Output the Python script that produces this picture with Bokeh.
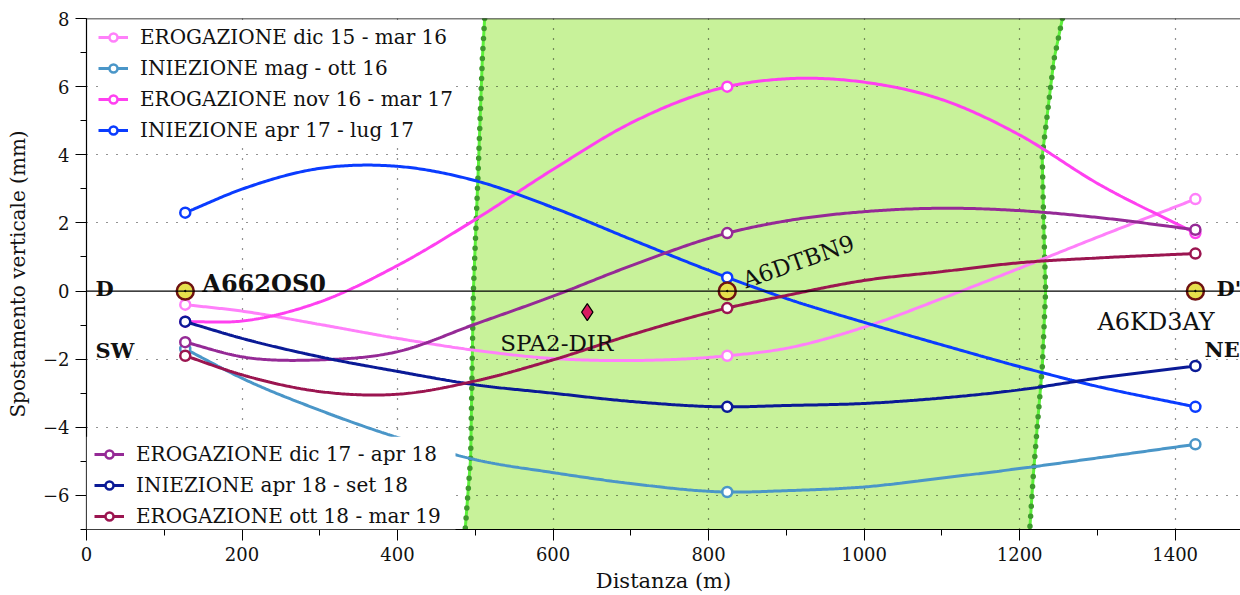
import numpy as np
from bokeh.plotting import figure
from bokeh.models import Range1d, FixedTicker, Span, Legend, LegendItem, BoxAnnotation
from bokeh.core.properties import value
from bokeh.embed import file_html
from bokeh.resources import INLINE

FONT = "DejaVu Serif"

# ---------------- data ----------------
SAMPLE_X = [127, 200, 300, 400, 500, 600, 700, 824, 900, 1000, 1100, 1200, 1300, 1426]
STATION_X = [127, 824, 1426]
STATION_NAMES = ["A662OS0", "A6DTBN9", "A6KD3AY"]

SERIES_LABELS = [
    "EROGAZIONE dic 15 - mar 16",
    "INIEZIONE mag - ott 16",
    "EROGAZIONE nov 16 - mar 17",
    "INIEZIONE apr 17 - lug 17",
    "EROGAZIONE dic 17 - apr 18",
    "INIEZIONE apr 18 - set 18",
    "EROGAZIONE ott 18 - mar 19",
]
ero_dic15_mar16 = [-0.4, -0.59, -0.98, -1.39, -1.74, -1.98, -2.04, -1.9, -1.68, -1.06, -0.22, 0.67, 1.58, 2.7]
inie_mag_ott16 = [-1.7, -2.56, -3.5, -4.3, -4.95, -5.33, -5.65, -5.9, -5.86, -5.75, -5.49, -5.21, -4.9, -4.5]
ero_nov16_mar17 = [-0.9, -0.88, -0.32, 0.75, 2.1, 3.57, 4.93, 6.0, 6.23, 6.13, 5.62, 4.58, 3.16, 1.7]
inie_apr17_lug17 = [2.3, 2.99, 3.6, 3.66, 3.24, 2.45, 1.52, 0.4, -0.22, -0.92, -1.58, -2.22, -2.8, -3.4]
ero_dic17_apr18 = [-1.5, -1.93, -2.02, -1.78, -0.97, -0.15, 0.74, 1.7, 2.06, 2.33, 2.43, 2.36, 2.16, 1.8]
inie_apr18_set18 = [-0.9, -1.39, -1.93, -2.36, -2.75, -3.0, -3.24, -3.4, -3.36, -3.3, -3.14, -2.9, -2.56, -2.2]
ero_ott18_mar19 = [-1.9, -2.46, -2.95, -3.03, -2.64, -2.02, -1.29, -0.5, -0.13, 0.31, 0.57, 0.83, 0.97, 1.1]
SERIES_VALUES = [ero_dic15_mar16, inie_mag_ott16, ero_nov16_mar17, inie_apr17_lug17,
                 ero_dic17_apr18, inie_apr18_set18, ero_ott18_mar19]

SPA2_X = [644]
SPA2_Y = [-0.62]

# fault zone boundaries (distance, displacement)
BAND_LEFT_X = [512, 509, 503.5, 497.5, 494, 487]
BAND_LEFT_Y = [8, 6.8, 3.4, 0, -4.9, -7]
BAND_RIGHT_X = [1255, 1244, 1229, 1231, 1233.4, 1229, 1222.8, 1217.6, 1213]
BAND_RIGHT_Y = [8, 6.78, 3.95, 1.94, 0, -2.27, -3.93, -5.39, -7]

X_TICKS = [0, 200, 400, 600, 800, 1000, 1200, 1400]
Y_TICKS = [-6, -4, -2, 0, 2, 4, 6, 8]

# ---------------- style ----------------
COLORS = ["#ff80fa", "#4a96c8", "#ff40f0", "#0a3cff", "#952a96", "#0a1a96", "#9b1550"]

W, H = 1240, 595
LEFT, TOP, BOTTOM = 86, 18, 64
X0, X1 = 0, 1484
Y0, Y1 = -7, 8
PX_X = (W - LEFT) / (X1 - X0)
PX_Y = (H - TOP - BOTTOM) / (Y1 - Y0)


def dx(px):
    return px / PX_X


def dy(px):
    return px / PX_Y


def smooth(xs, ys, n=500):
    xs = np.asarray(xs, float)
    ys = np.asarray(ys, float)
    m = np.gradient(ys, xs)
    xx = np.linspace(xs[0], xs[-1], n)
    idx = np.clip(np.searchsorted(xs, xx, side="right") - 1, 0, len(xs) - 2)
    h = xs[idx + 1] - xs[idx]
    t = (xx - xs[idx]) / h
    h00 = 2 * t**3 - 3 * t**2 + 1
    h10 = t**3 - 2 * t**2 + t
    h01 = -2 * t**3 + 3 * t**2
    h11 = t**3 - t**2
    yy = h00 * ys[idx] + h10 * h * m[idx] + h01 * ys[idx + 1] + h11 * h * m[idx + 1]
    return xx, yy


p = figure(width=W, height=H, x_range=Range1d(X0, X1), y_range=Range1d(Y0, Y1),
           output_backend="svg", toolbar_location=None,
           min_border_left=LEFT, min_border_right=0, min_border_top=TOP, min_border_bottom=BOTTOM)
p.outline_line_color = None
p.background_fill_color = "white"

# axes
for ax in (p.xaxis, p.yaxis):
    ax.axis_line_color = "black"
    ax.axis_line_width = 1.2
    ax.major_tick_line_color = "black"
    ax.minor_tick_line_color = "black"
    ax.major_tick_out = 11
    ax.major_tick_in = 0
    ax.minor_tick_out = 6
    ax.minor_tick_in = 0
    ax.major_label_text_font = FONT
    ax.major_label_text_font_size = "18px"
    ax.major_label_text_color = "#111111"
    ax.major_label_standoff = 6
    ax.axis_label_text_font = FONT
    ax.axis_label_text_font_style = "normal"
    ax.axis_label_text_color = "#111111"
p.xaxis.ticker = FixedTicker(ticks=X_TICKS, minor_ticks=list(range(0, 1501, 100)))
p.yaxis.ticker = FixedTicker(ticks=Y_TICKS, minor_ticks=list(range(-7, 9)))
p.yaxis.major_label_overrides = {t: (("\u2212" + str(-t)) if t < 0 else str(t)) for t in Y_TICKS}
p.yaxis.axis_label = "Spostamento verticale (mm)"
p.yaxis.axis_label_text_font_size = "20px"
p.yaxis.axis_label_standoff = 10
p.xaxis.axis_label = "Distanza (m)"
p.xaxis.axis_label_text_font_size = "21px"
p.xaxis.axis_label_standoff = 5

# grid
p.xgrid.ticker = FixedTicker(ticks=[t for t in X_TICKS if t != 0])
p.ygrid.ticker = FixedTicker(ticks=[t for t in Y_TICKS if t not in (0, 8)])
for g in (p.xgrid, p.ygrid):
    g.grid_line_color = "black"
    g.grid_line_dash = "1 9"
    g.grid_line_width = 1.2
    g.grid_line_alpha = 0.85

# fault zone band
poly_x = BAND_LEFT_X + BAND_RIGHT_X[::-1]
poly_y = BAND_LEFT_Y + BAND_RIGHT_Y[::-1]
p.patch(poly_x, poly_y, fill_color="#c8f29a", line_color=None, level="image")
for bx, by in ((BAND_LEFT_X, BAND_LEFT_Y), (BAND_RIGHT_X, BAND_RIGHT_Y)):
    p.line(bx, by, line_color="#5cf03a", line_width=3)
    p.line(bx, by, line_color="#3f9a2e", line_width=5.5, line_dash="0 10", line_cap="round")

p.add_layout(Span(location=0, dimension="width", line_color="black", line_width=1.3))
p.add_layout(Span(location=Y1, dimension="width", line_color="black", line_width=1.5))

# series
items = []
for lab, vals, col in zip(SERIES_LABELS, SERIES_VALUES, COLORS):
    xx, yy = smooth(SAMPLE_X, vals)
    lr = p.line(xx, yy, line_color=col, line_width=3)
    sx = [x for x in SAMPLE_X if x in STATION_X]
    sy = [v for x, v in zip(SAMPLE_X, vals) if x in STATION_X]
    sr = p.scatter(sx, sy, marker="circle", size=10, fill_color="white", line_color=col, line_width=2.5)
    items.append(LegendItem(label=lab, renderers=[lr, sr]))

# stations
p.scatter(STATION_X, [0] * len(STATION_X), marker="circle", size=17, fill_color="#e6e04c",
          line_color="#6e1212", line_width=2.5)
p.scatter(STATION_X, [0] * len(STATION_X), marker="circle", size=1.5, fill_color="black", line_color="black")

# SPA2-DIR
p.scatter(SPA2_X, SPA2_Y, marker="diamond", size=17, fill_color="#d81b60", line_color="black", line_width=1.2)

# texts
p.text(x=[STATION_X[0] + dx(17)], y=[dy(8)], text=[STATION_NAMES[0]], text_font=value(FONT),
       text_font_size="24px", text_font_style="bold", text_color="#111111", text_baseline="alphabetic")
p.text(x=[STATION_X[1] + dx(16)], y=[dy(10)], text=[STATION_NAMES[1]], text_font=value(FONT),
       text_font_size="23px", text_color="#111111", text_baseline="alphabetic", angle=0.34)
p.text(x=[STATION_X[2] - dx(98)], y=[-dy(31)], text=[STATION_NAMES[2]], text_font=value(FONT),
       text_font_size="24px", text_color="#111111", text_baseline="alphabetic")
p.text(x=[SPA2_X[0] - dx(87)], y=[SPA2_Y[0] - dy(31)], text=["SPA2-DIR"], text_font=value(FONT),
       text_font_size="23px", text_color="#111111", text_baseline="alphabetic")
p.text(x=[dx(9), dx(9), X1 - dx(24), X1 - dx(36)], y=[dy(3), -dy(60), dy(3), -dy(59)],
       text=["D", "SW", "D'", "NE"], text_font=value(FONT), text_font_size="21px",
       text_font_style="bold", text_color="#111111", text_baseline="alphabetic")

# legend background for the lower legend
p.add_layout(BoxAnnotation(right=dx(369), top=Y0 + dy(93), fill_color="white", fill_alpha=1,
                           line_color=None))

common = dict(label_text_font=FONT, label_text_font_size="20px", label_text_color="#111111",
              glyph_width=30, glyph_height=20, label_height=20, label_standoff=12,
              padding=10, spacing=7, border_line_color=None)
leg1 = Legend(items=items[:4], location=(12, 387), background_fill_color="white",
              background_fill_alpha=1, **common)
leg2 = Legend(items=items[4:], location=(8, 1), background_fill_alpha=0, **common)
p.add_layout(leg1, "center")
p.add_layout(leg2, "center")

open("out.html", "w").write(file_html(p, INLINE))
